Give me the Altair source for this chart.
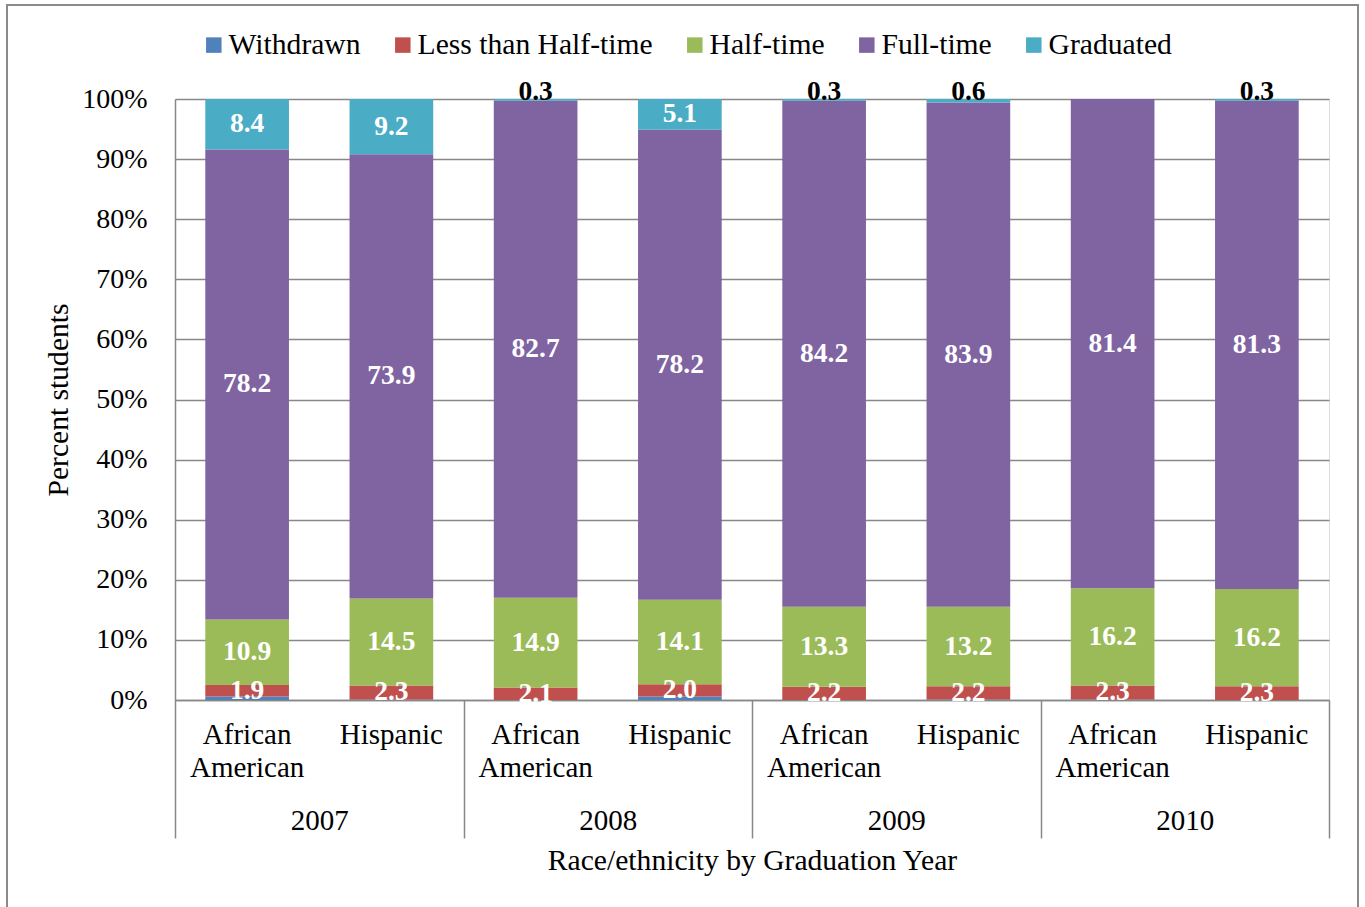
import altair as alt
import pandas as pd

# Categories
years = ["2007", "2008", "2009", "2010"]
groups = ["African American", "Hispanic"]
group_labels = ["African\nAmerican", "Hispanic"]
statuses = ["Withdrawn", "Less than Half-time", "Half-time", "Full-time", "Graduated"]
colors = ["#4F81BD", "#C0504D", "#9BBB59", "#8064A2", "#4BACC6"]

# Percent of students per bar: 2007 AA, 2007 Hisp, 2008 AA, 2008 Hisp, ...
withdrawn = [0.6, 0.1, 0.0, 0.6, 0.0, 0.1, 0.1, 0.0]
less_half = [1.9, 2.3, 2.1, 2.0, 2.2, 2.2, 2.3, 2.3]
half_time = [10.9, 14.5, 14.9, 14.1, 13.3, 13.2, 16.2, 16.2]
full_time = [78.2, 73.9, 82.7, 78.2, 84.2, 83.9, 81.4, 81.3]
graduated = [8.4, 9.2, 0.3, 5.1, 0.3, 0.6, 0.0, 0.3]

series = [withdrawn, less_half, half_time, full_time, graduated]

FONT = "Liberation Serif"
GRID = "#888888"
TICK_FS = 28
CAT_FS = 29
TITLE_FS = 29.6

# Build a 100%-stacked table (each bar normalised to its total)
rows = []
for i in range(8):
    year = years[i // 2]
    group = groups[i % 2]
    total = sum(s[i] for s in series)
    cum = 0.0
    for k, status in enumerate(statuses):
        v = series[k][i]
        y0 = cum / total * 100
        cum += v
        y1 = cum / total * 100
        rows.append({
            "year": year, "group": group, "status": status, "order": k,
            "value": v, "y0": y0, "y1": y1, "mid": (y0 + y1) / 2,
            "label": f"{v:.1f}",
        })
df = pd.DataFrame(rows)

bars_df = df[df["value"] > 0]
white_df = df[(df["status"] != "Withdrawn") & (df["value"] >= 1)]
black_df = df[(df["status"] == "Graduated") & (df["value"] > 0) & (df["value"] < 1)]

cat_df = pd.DataFrame({
    "year": [y for y in years for _ in groups],
    "group": groups * len(years),
    "text": group_labels * len(years),
})

x_enc = alt.X(
    "year:N", sort=years,
    scale=alt.Scale(paddingInner=0, paddingOuter=0),
    axis=alt.Axis(
        title="Race/ethnicity by Graduation Year",
        tickBand="extent", tickSize=138, tickColor=GRID, tickWidth=1.5,
        domainColor=GRID, domainWidth=1.5, grid=False,
        labelFont=FONT, labelFontSize=CAT_FS, labelColor="black",
        labelBaseline="middle", labelPadding=-18, labelAngle=0,
        titleFont=FONT, titleFontSize=TITLE_FS, titleFontWeight="normal",
        titleColor="black", titleX=577, titleY=160,
        titleAlign="center", titleBaseline="middle",
    ),
)
xoff_enc = alt.XOffset(
    "group:N", sort=groups,
    scale=alt.Scale(paddingInner=0.42, paddingOuter=0.21),
)
y_enc = alt.Y(
    "y0:Q",
    scale=alt.Scale(domain=[0, 100], nice=False),
    axis=alt.Axis(
        title="Percent students", values=list(range(0, 101, 10)),
        labelExpr="datum.value + '%'", ticks=False, tickSize=0,
        labelPadding=28, labelFont=FONT, labelFontSize=TICK_FS, labelColor="black",
        grid=True, gridColor=GRID, gridWidth=1.5,
        domainColor=GRID, domainWidth=1.5,
        titleFont=FONT, titleFontSize=TITLE_FS, titleFontWeight="normal",
        titleColor="black", titleX=-117, titleY=300.5,
        titleAlign="center", titleBaseline="middle", titleAngle=-90,
    ),
)

bars = alt.Chart(bars_df).mark_bar().encode(
    x=x_enc, xOffset=xoff_enc, y=y_enc, y2="y1:Q",
    color=alt.Color(
        "status:N", sort=statuses,
        scale=alt.Scale(domain=statuses, range=colors),
        legend=alt.Legend(
            title=None, orient="none", legendX=24, legendY=-69,
            direction="horizontal", symbolType="square", symbolSize=240,
            symbolStrokeWidth=0, labelFont=FONT, labelFontSize=TITLE_FS,
            labelColor="black", labelOffset=0, labelLimit=0,
            columnPadding=27, padding=0,
        ),
    ),
    order=alt.Order("order:Q"),
)

white_labels = alt.Chart(white_df).mark_text(
    font=FONT, fontSize=27.5, fontWeight="bold", color="white", baseline="middle",
).encode(x=x_enc, xOffset=xoff_enc, y=alt.Y("mid:Q"), text="label:N")

black_labels = alt.Chart(black_df).mark_text(
    font=FONT, fontSize=27.5, fontWeight="bold", color="black", baseline="middle", dy=-7,
).encode(x=x_enc, xOffset=xoff_enc, y=alt.Y("y1:Q"), text="label:N")

cat_labels = alt.Chart(cat_df).mark_text(
    font=FONT, fontSize=CAT_FS, color="black", baseline="top", align="center",
    lineBreak="\n", lineHeight=33,
).encode(x=x_enc, xOffset=xoff_enc, y=alt.value(622), text="text:N")

frame = alt.Chart(pd.DataFrame({"k": [0]})).mark_rect(
    fillOpacity=0, stroke="#8a8a8a", strokeWidth=2,
).encode(x=alt.value(-168), x2=alt.value(1183), y=alt.value(-94), y2=alt.value(840))

chart = alt.layer(bars, white_labels, black_labels, cat_labels, frame).properties(
    width=1154, height=601,
    padding={"left": 175, "top": 99, "right": 36, "bottom": 207},
    autosize=alt.AutoSizeParams(type="none"),
).configure_view(strokeOpacity=0).configure(background="white")

chart.save("out.html", embed_options={"renderer": "svg", "actions": False})
